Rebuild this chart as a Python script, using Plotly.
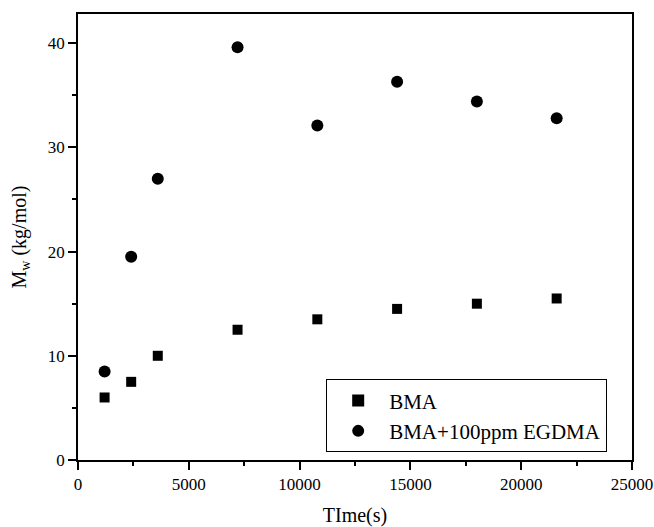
import plotly.graph_objects as go

time_s = [1200, 2400, 3600, 7200, 10800, 14400, 18000, 21600]
bma_mw = [6.0, 7.5, 10.0, 12.5, 13.5, 14.5, 15.0, 15.5]
egdma_mw = [8.5, 19.5, 27.0, 39.6, 32.1, 36.3, 34.4, 32.8]

fam = "Times New Roman, Liberation Serif, DejaVu Serif, serif"
tickfont = dict(family=fam, size=17, color="black")
titlefont = dict(family=fam, size=20, color="black")
legfont = dict(family=fam, size=21, color="black")

fig = go.Figure()
fig.add_trace(go.Scatter(x=time_s, y=bma_mw, mode="markers", name="BMA",
                         marker=dict(symbol="square", size=10, color="black")))
fig.add_trace(go.Scatter(x=time_s, y=egdma_mw, mode="markers", name="BMA+100ppm EGDMA",
                         marker=dict(symbol="circle", size=12, color="black")))

axis_common = dict(showline=True, linecolor="black", linewidth=1.5, mirror=True,
                   ticks="outside", ticklen=8, tickwidth=1.5, tickcolor="black",
                   showgrid=False, zeroline=False, tickfont=tickfont, automargin=False)

fig.update_xaxes(range=[0, 25000], tick0=0, dtick=5000, tickformat="d",
                 title=dict(text="TIme(s)", font=titlefont, standoff=16),
                 minor=dict(ticks="outside", ticklen=4, dtick=2500, tickcolor="black", tickwidth=1.5),
                 **axis_common)
fig.update_yaxes(range=[0, 42.8], tick0=0, dtick=10,
                 title=dict(text="M<sub>w</sub> (kg/mol)", font=titlefont, standoff=16),
                 minor=dict(ticks="outside", ticklen=4, dtick=5, tickcolor="black", tickwidth=1.5),
                 **axis_common)

fig.update_layout(
    template="none",
    width=654, height=527,
    margin=dict(l=78, r=22, t=14, b=67),
    plot_bgcolor="white", paper_bgcolor="white",
    font=tickfont,
    legend=dict(x=0.448, y=0.017, xanchor="left", yanchor="bottom",
                bordercolor="black", borderwidth=1, bgcolor="white",
                font=legfont, itemsizing="constant", itemwidth=52, tracegroupgap=0),
)

fig.write_html("out.html")
